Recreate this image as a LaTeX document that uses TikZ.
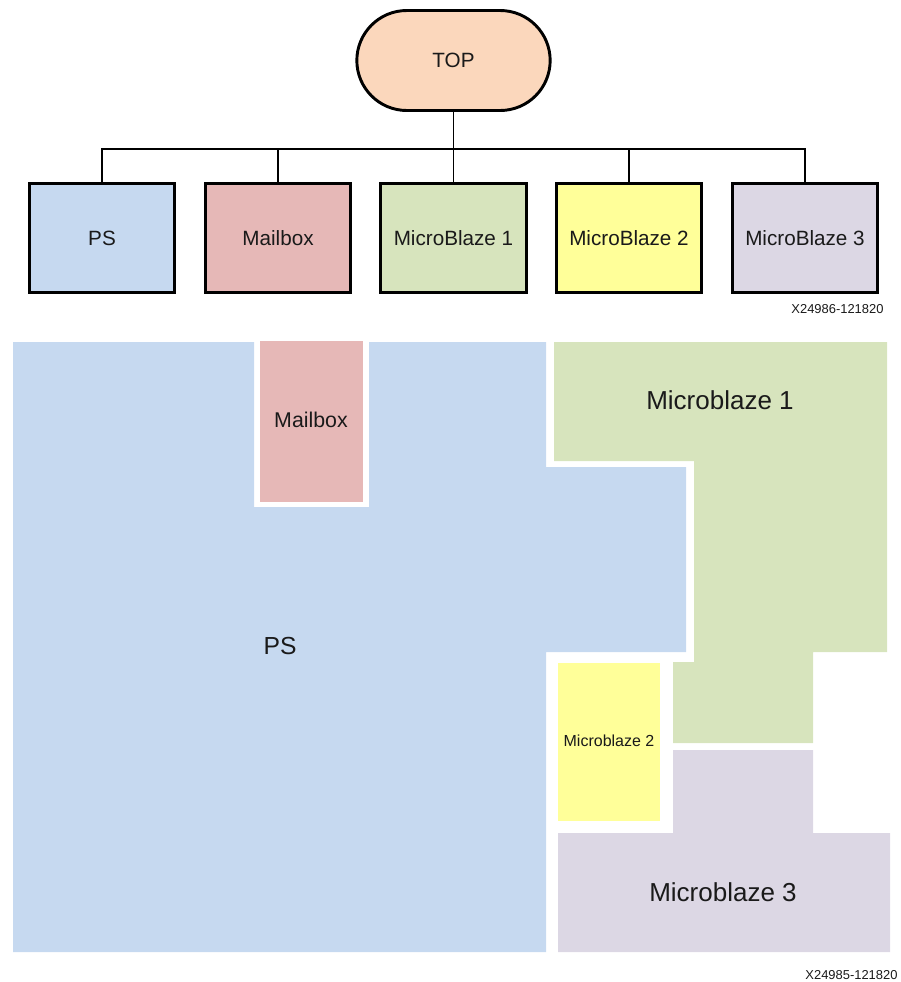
\documentclass[tikz,border=0pt]{standalone}
\usepackage{fontspec}
\setmainfont{Liberation Sans}

\definecolor{toppeach}{RGB}{251,215,188}
\definecolor{psblue}{RGB}{198,217,240}
\definecolor{mboxred}{RGB}{230,184,183}
\definecolor{mbgreen}{RGB}{215,228,189}
\definecolor{mbyellow}{RGB}{255,255,153}
\definecolor{mbpurple}{RGB}{220,215,228}
\definecolor{inktext}{RGB}{26,26,26}

\tikzset{every picture/.style={line width=0.75pt}}
\tikzset{
  blockbox/.style={draw, line width=2.2pt, minimum width=109pt, minimum height=82pt, inner sep=0pt, text=inktext, font=\fontsize{15.5}{18}\selectfont},
  topbox/.style={draw, line width=2.2pt, fill=toppeach, minimum width=145pt, minimum height=75pt, rounded corners=37.5pt, inner sep=0pt, text=inktext, font=\fontsize{15.5}{18}\selectfont},
  treeline/.style={line width=1pt},
  idlabel/.style={anchor=east, inner sep=0pt, text=inktext, font=\fontsize{9.7}{11}\selectfont},
  regionlabel/.style={inner sep=0pt, text=inktext}
}

\begin{document}
\begin{tikzpicture}[x=0.75pt,y=0.75pt,yscale=-1,xscale=1]
\useasboundingbox (0,0) rectangle (900,982);

% Hierarchy
\node (top) [topbox] at (453.5,60.5) {TOP};
\node (ps) [blockbox, fill=psblue] at (102,238) {PS};
\node (mbox) [blockbox, fill=mboxred] at (278,238) {Mailbox};
\node (mb1) [blockbox, fill=mbgreen] at (453.5,238) {MicroBlaze 1};
\node (mb2) [blockbox, fill=mbyellow] at (629,238) {MicroBlaze 2};
\node (mb3) [blockbox, fill=mbpurple] at (805,238) {MicroBlaze 3};
\coordinate (bus) at (453.5,149);

\draw [treeline] (top.south) -- (mb1.north);
\draw [treeline] (ps.north) |- (bus);
\draw [treeline] (mbox.north) |- (bus);
\draw [treeline] (mb2.north) |- (bus);
\draw [treeline] (mb3.north) |- (bus);

\node (idtop) [idlabel] at (884,309) {X24986-121820};

% Floorplan
%PS region
\fill [psblue] (13,342) -- (254,342) -- (254,507) -- (369,507) -- (369,342) -- (546,342) -- (546,467) -- (686,467) -- (686,652) -- (546,652) -- (546,952) -- (13,952) -- cycle;
%Mailbox region
\fill [mboxred] (260,341) rectangle (363,502);
%Microblaze 1 region
\fill [mbgreen] (554,342) -- (887,342) -- (887,652) -- (813,652) -- (813,743) -- (673,743) -- (673,662) -- (694,662) -- (694,461) -- (554,461) -- cycle;
%Microblaze 2 region
\fill [mbyellow] (558,663) rectangle (660,821);
%Microblaze 3 region
\fill [mbpurple] (673,750) -- (813,750) -- (813,833) -- (890,833) -- (890,952) -- (558,952) -- (558,833) -- (673,833) -- cycle;

% Text Node
\node (psarea) [regionlabel, font=\fontsize{18.5}{22}\selectfont] at (280,646) {PS};
% Text Node
\node (mboxarea) [regionlabel, font=\fontsize{16}{19}\selectfont] at (311,420) {Mailbox};
% Text Node
\node (mb1area) [regionlabel, font=\fontsize{19.5}{23}\selectfont] at (720,400) {Microblaze 1};
% Text Node
\node (mb2area) [regionlabel, font=\fontsize{12}{14}\selectfont] at (609,741) {Microblaze 2};
% Text Node
\node (mb3area) [regionlabel, font=\fontsize{19.5}{23}\selectfont] at (723,892) {Microblaze 3};

\node (idfloor) [idlabel] at (898,975) {X24985-121820};

\end{tikzpicture}
\end{document}
